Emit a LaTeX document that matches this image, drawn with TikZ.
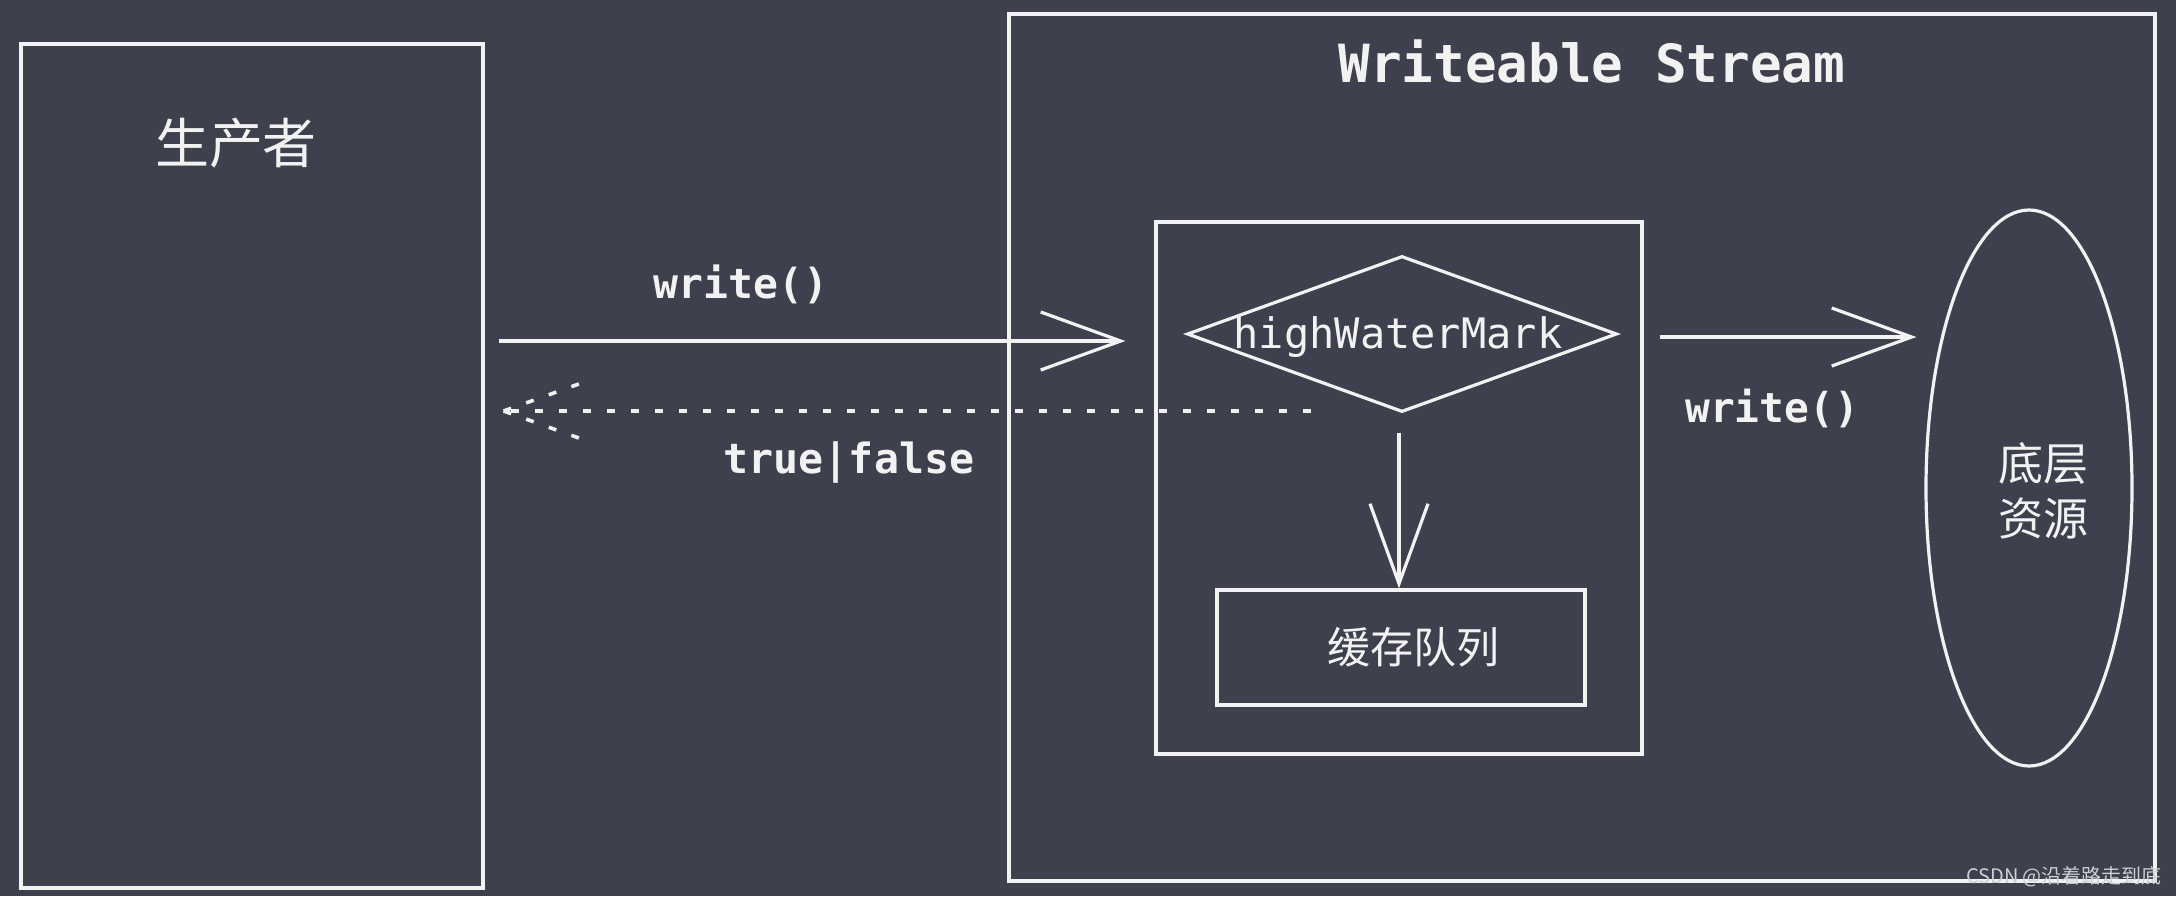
\documentclass[tikz,border=0pt]{standalone}
\usepackage{fontspec}
\usetikzlibrary{arrows.meta,shapes.geometric,calc}
\newfontfamily\cjk{Noto Sans CJK SC}
\newfontfamily\mono{DejaVu Sans Mono}
\definecolor{bgc}{RGB}{62,65,77}
\definecolor{ink}{RGB}{242,242,242}
\definecolor{wm}{RGB}{205,207,212}
\begin{document}
\begin{tikzpicture}[x=0.5pt,y=-0.5pt,
  box/.style={draw=ink, line width=1.6pt, rectangle, inner sep=0pt},
  lbl/.style={text=ink, inner sep=0pt, align=center},
  conn/.style={draw=ink, line width=1.6pt, -{Straight Barb[length=40pt,width=29pt,line width=1.6pt]}},
  dotline/.style={draw=ink, line width=1.8pt, dash pattern=on 4pt off 8pt, line cap=butt},
]
\fill[bgc] (0,0) rectangle (2176,896);
\useasboundingbox (0,0) rectangle (2176,896);

% producer
\node[box, minimum width=231pt, minimum height=422pt] (prod) at (252,466) {};
\node[lbl, font=\cjk\fontsize{27pt}{32pt}\selectfont] (prodlbl) at (236,143) {生产者};

% writeable stream
\node[box, minimum width=573pt, minimum height=433.5pt] (stream) at (1582,447.5) {};
\node[lbl, font=\mono\bfseries\fontsize{26.3pt}{30pt}\selectfont] (streamlbl) at (1592,61) {Writeable Stream};

\node[box, minimum width=243pt, minimum height=266pt] (inner) at (1399,488) {};
\node[draw=ink, line width=1.6pt, diamond, inner sep=0pt, minimum width=215pt, minimum height=78pt] (hwm) at (1402,334) {};
\node[lbl, font=\mono\fontsize{21pt}{24pt}\selectfont] (hwmlbl) at (1398,337) {highWaterMark};

\node[box, minimum width=184pt, minimum height=57.5pt] (cache) at (1401,647.5) {};
\node[lbl, font=\cjk\fontsize{21.5pt}{26pt}\selectfont] (cachelbl) at (1413,647) {缓存队列};

\node[draw=ink, line width=1.6pt, ellipse, inner sep=0pt, minimum width=103pt, minimum height=278pt] (res) at (2029,488) {};
\node[lbl, font=\cjk\fontsize{22.5pt}{27.7pt}\selectfont] (reslbl) at (2043,491) {底层\\资源};

% connectors
\coordinate (w1s) at ($(prod.east |- 0,341)+(14,0)$);
\coordinate (w1e) at ($(inner.west |- 0,341)+(-29,0)$);
\draw[conn] (w1s) -- (w1e);
\node[lbl, font=\mono\bfseries\fontsize{20.7pt}{24pt}\selectfont] (w1lbl) at (741,284) {write()};

\coordinate (rets) at (1311,411);
\coordinate (rett) at ($(prod.east |- 0,411)+(19,0)$);
\coordinate (reta) at ($(rett)+(78,-28)$);
\coordinate (retb) at ($(rett)+(78,28)$);
\draw[dotline] (rets) -- (rett);
\draw[dotline] (rett) -- (reta);
\draw[dotline] (rett) -- (retb);
\node[lbl, font=\mono\bfseries\fontsize{20.8pt}{24pt}\selectfont] (retlbl) at (849,462) {true|false};

\coordinate (dn) at ($(hwm.south)+(-3,19)$);
\draw[conn] (dn) -- (dn |- cache.north);

\coordinate (w2s) at ($(inner.east |- 0,337)+(16,0)$);
\coordinate (w2e) at ($(res.west |- 0,337)+(-8,0)$);
\draw[conn] (w2s) -- (w2e);
\node[lbl, font=\mono\bfseries\fontsize{20.6pt}{24pt}\selectfont] (w2lbl) at (1772,408) {write()};

\node[text=wm, inner sep=0pt, font=\cjk\fontsize{10pt}{11pt}\selectfont] (wmark) at (2064,877) {CSDN @沿着路走到底};
\end{tikzpicture}
\end{document}
